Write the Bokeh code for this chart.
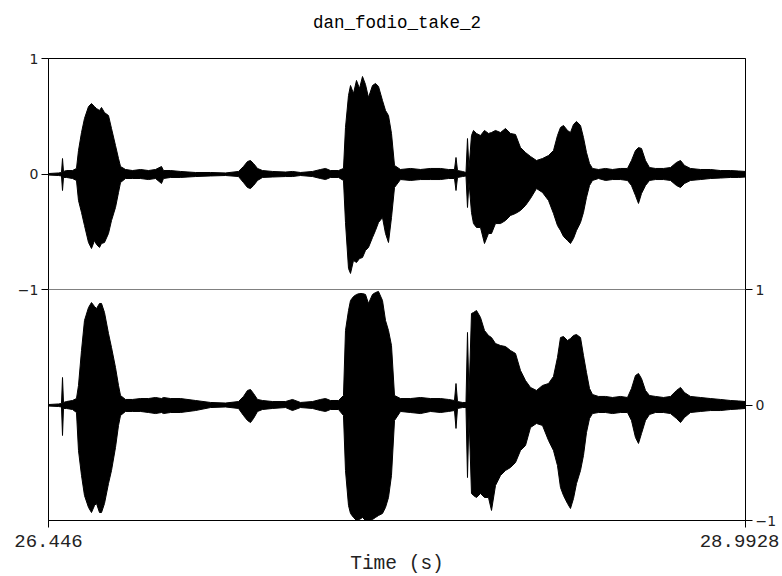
from bokeh.plotting import figure
from bokeh.models import Range1d, LinearAxis, FixedTicker, Span, ColumnDataSource
from bokeh.embed import file_html
from bokeh.resources import INLINE

title_text = "dan_fodio_take_2"
x_label = "Time (s)"
t_start = 26.446
t_end = 28.9928
amp_ticks = [-1, 0, 1]

time_s = [
    26.4460, 26.4825, 26.4935, 26.4972, 26.5008, 26.5118, 26.5337, 26.5483, 26.5556, 26.5666,
    26.5775, 26.5922, 26.6031, 26.6141, 26.6214, 26.6324, 26.6397, 26.6506, 26.6652, 26.6762,
    26.6908, 26.7018, 26.7091, 26.7274, 26.7529, 26.7822, 26.8114, 26.8370, 26.8589, 26.8662,
    26.8918, 26.9283, 26.9831, 27.0379, 27.0927, 27.1402, 27.1585, 27.1731, 27.1841, 27.1951,
    27.2097, 27.2279, 27.2645, 27.3120, 27.3375, 27.3668, 27.4106, 27.4399, 27.4581, 27.4764,
    27.5056, 27.5239, 27.5312, 27.5422, 27.5495, 27.5604, 27.5714, 27.5824, 27.5933, 27.6043,
    27.6152, 27.6299, 27.6408, 27.6518, 27.6664, 27.6774, 27.6883, 27.6993, 27.7103, 27.7322,
    27.7687, 27.8053, 27.8418, 27.8783, 27.9076, 27.9295, 27.9350, 27.9405, 27.9587, 27.9715,
    27.9770, 27.9825, 27.9916, 27.9989, 28.0099, 28.0245, 28.0391, 28.0537, 28.0647, 28.0793,
    28.0976, 28.1158, 28.1341, 28.1524, 28.1706, 28.1889, 28.2072, 28.2291, 28.2510, 28.2730,
    28.2912, 28.3058, 28.3168, 28.3278, 28.3424, 28.3533, 28.3643, 28.3753, 28.3899, 28.4008,
    28.4118, 28.4228, 28.4337, 28.4556, 28.4812, 28.5068, 28.5360, 28.5616, 28.5762, 28.5908,
    28.6018, 28.6128, 28.6274, 28.6420, 28.6639, 28.6932, 28.7187, 28.7407, 28.7553, 28.7699,
    28.7918, 28.8283, 28.8649, 28.9014, 28.9380, 28.9672, 28.9928,
]

ch1_upper = [
    0.004, 0.009, 0.013, 0.134, 0.022, 0.030, 0.030, 0.048, 0.203, 0.359,
    0.481, 0.584, 0.610, 0.584, 0.567, 0.550, 0.576, 0.532, 0.506, 0.394,
    0.247, 0.134, 0.065, 0.039, 0.030, 0.039, 0.030, 0.039, 0.065, 0.030,
    0.030, 0.022, 0.013, 0.013, 0.009, 0.022, 0.065, 0.108, 0.117, 0.091,
    0.048, 0.030, 0.022, 0.017, 0.022, 0.013, 0.022, 0.039, 0.048, 0.030,
    0.030, 0.048, 0.403, 0.680, 0.766, 0.697, 0.810, 0.740, 0.844, 0.775,
    0.662, 0.766, 0.784, 0.758, 0.636, 0.550, 0.506, 0.351, 0.074, 0.039,
    0.048, 0.039, 0.048, 0.048, 0.039, 0.039, 0.143, 0.030, 0.022, 0.013,
    0.307, 0.048, 0.333, 0.377, 0.351, 0.333, 0.377, 0.351, 0.359, 0.377,
    0.359, 0.394, 0.351, 0.342, 0.229, 0.186, 0.152, 0.117, 0.134, 0.160,
    0.203, 0.333, 0.403, 0.420, 0.377, 0.359, 0.429, 0.455, 0.420, 0.316,
    0.186, 0.091, 0.048, 0.039, 0.048, 0.039, 0.048, 0.048, 0.117, 0.203,
    0.229, 0.221, 0.117, 0.056, 0.048, 0.048, 0.056, 0.100, 0.117, 0.074,
    0.048, 0.039, 0.039, 0.030, 0.030, 0.026, 0.022,
]

ch1_lower = [
    -0.009, -0.013, -0.017, -0.143, -0.030, -0.030, -0.039, -0.056, -0.229, -0.333,
    -0.446, -0.593, -0.645, -0.576, -0.610, -0.636, -0.602, -0.593, -0.515, -0.403,
    -0.290, -0.160, -0.074, -0.039, -0.039, -0.039, -0.048, -0.039, -0.082, -0.039,
    -0.030, -0.030, -0.022, -0.017, -0.013, -0.022, -0.074, -0.117, -0.126, -0.100,
    -0.056, -0.030, -0.026, -0.022, -0.022, -0.013, -0.022, -0.039, -0.048, -0.030,
    -0.030, -0.056, -0.420, -0.818, -0.861, -0.749, -0.766, -0.732, -0.723, -0.662,
    -0.636, -0.550, -0.489, -0.420, -0.377, -0.515, -0.593, -0.377, -0.117, -0.048,
    -0.056, -0.048, -0.048, -0.048, -0.039, -0.039, -0.143, -0.030, -0.022, -0.017,
    -0.290, -0.074, -0.333, -0.429, -0.463, -0.463, -0.602, -0.515, -0.515, -0.429,
    -0.429, -0.403, -0.359, -0.342, -0.316, -0.273, -0.212, -0.126, -0.160, -0.229,
    -0.342, -0.446, -0.489, -0.541, -0.576, -0.602, -0.558, -0.489, -0.420, -0.333,
    -0.203, -0.100, -0.056, -0.039, -0.056, -0.048, -0.048, -0.056, -0.100, -0.186,
    -0.255, -0.169, -0.100, -0.056, -0.048, -0.048, -0.056, -0.100, -0.117, -0.082,
    -0.056, -0.048, -0.039, -0.035, -0.030, -0.030, -0.026,
]

ch2_upper = [
    0.004, 0.009, 0.013, 0.238, 0.022, 0.030, 0.039, 0.056, 0.169, 0.472,
    0.732, 0.844, 0.887, 0.853, 0.835, 0.879, 0.879, 0.801, 0.619, 0.498,
    0.325, 0.169, 0.082, 0.048, 0.048, 0.056, 0.056, 0.065, 0.056, 0.065,
    0.056, 0.056, 0.039, 0.022, 0.017, 0.030, 0.074, 0.126, 0.134, 0.100,
    0.048, 0.039, 0.030, 0.030, 0.048, 0.022, 0.030, 0.048, 0.056, 0.039,
    0.039, 0.082, 0.645, 0.818, 0.905, 0.939, 0.957, 0.965, 0.965, 0.957,
    0.879, 0.957, 0.974, 0.983, 0.905, 0.732, 0.645, 0.515, 0.082, 0.056,
    0.056, 0.065, 0.056, 0.056, 0.048, 0.039, 0.186, 0.030, 0.022, 0.022,
    0.628, 0.082, 0.792, 0.801, 0.818, 0.758, 0.645, 0.602, 0.584, 0.532,
    0.515, 0.506, 0.472, 0.446, 0.299, 0.212, 0.152, 0.126, 0.169, 0.186,
    0.247, 0.411, 0.584, 0.593, 0.558, 0.576, 0.602, 0.610, 0.584, 0.429,
    0.281, 0.143, 0.091, 0.074, 0.074, 0.065, 0.074, 0.065, 0.143, 0.255,
    0.273, 0.229, 0.126, 0.082, 0.074, 0.065, 0.074, 0.126, 0.152, 0.108,
    0.074, 0.065, 0.056, 0.048, 0.039, 0.035, 0.030,
]

ch2_lower = [
    -0.009, -0.013, -0.017, -0.264, -0.030, -0.030, -0.039, -0.065, -0.394, -0.610,
    -0.784, -0.887, -0.931, -0.870, -0.853, -0.931, -0.931, -0.853, -0.680, -0.567,
    -0.368, -0.177, -0.091, -0.056, -0.056, -0.056, -0.065, -0.074, -0.065, -0.074,
    -0.065, -0.065, -0.048, -0.022, -0.017, -0.030, -0.091, -0.134, -0.152, -0.117,
    -0.056, -0.039, -0.030, -0.022, -0.048, -0.022, -0.030, -0.048, -0.056, -0.039,
    -0.039, -0.091, -0.567, -0.870, -0.939, -0.974, -1.000, -0.991, -0.974, -1.000,
    -1.000, -0.991, -0.974, -0.957, -0.939, -0.887, -0.801, -0.610, -0.134, -0.056,
    -0.065, -0.074, -0.056, -0.065, -0.056, -0.048, -0.203, -0.030, -0.022, -0.022,
    -0.628, -0.091, -0.766, -0.784, -0.801, -0.766, -0.801, -0.801, -0.913, -0.697,
    -0.610, -0.567, -0.541, -0.498, -0.394, -0.351, -0.195, -0.160, -0.177, -0.307,
    -0.394, -0.524, -0.714, -0.784, -0.853, -0.896, -0.810, -0.680, -0.567, -0.437,
    -0.238, -0.117, -0.074, -0.065, -0.065, -0.074, -0.065, -0.065, -0.134, -0.281,
    -0.333, -0.247, -0.134, -0.082, -0.065, -0.065, -0.074, -0.117, -0.152, -0.108,
    -0.065, -0.056, -0.048, -0.048, -0.039, -0.035, -0.030,
]

src = ColumnDataSource(dict(t=time_s, u1=ch1_upper, l1=ch1_lower,
                            u2=ch2_upper, l2=ch2_lower))

MONO = "Liberation Mono"
SANS = "DejaVu Sans"

p = figure(frame_width=697, frame_height=462, output_backend="svg",
           toolbar_location=None,
           x_range=Range1d(t_start, t_end), y_range=Range1d(-3, 1),
           x_axis_location=None, y_axis_location=None,
           min_border_left=48, min_border_right=29, min_border_top=58,
           min_border_bottom=0)
p.extra_y_ranges = {"ch2": Range1d(-1, 3)}
p.grid.visible = False
p.outline_line_color = "black"
p.outline_line_width = 1
p.background_fill_color = "white"
p.border_fill_color = "white"

# title: an empty second line lifts the text further above the frame
p.title.text = title_text + "\n"
p.title.align = "center"
p.title.text_font = MONO
p.title.text_font_size = "17.5px"
p.title.text_font_style = "normal"
p.title.text_color = "black"
p.title.text_line_height = 1.05
p.title.standoff = 10

# channel 1 (top half, left axis)
p.varea(x="t", y1="l1", y2="u1", source=src, fill_color="black")
p.line(x="t", y="u1", source=src, line_color="black", line_width=1)
p.line(x="t", y="l1", source=src, line_color="black", line_width=1)
# channel 2 (bottom half, right axis)
p.varea(x="t", y1="l2", y2="u2", source=src, fill_color="black", y_range_name="ch2")
p.line(x="t", y="u2", source=src, line_color="black", line_width=1, y_range_name="ch2")
p.line(x="t", y="l2", source=src, line_color="black", line_width=1, y_range_name="ch2")

# separator between channels
p.add_layout(Span(location=-1, dimension="width", line_color="#808080", line_width=1))


def style_axis(ax, font, size):
    ax.axis_line_color = "black"
    ax.major_tick_line_color = "black"
    ax.major_tick_in = 0
    ax.major_tick_out = 7
    ax.minor_tick_line_color = None
    ax.major_label_text_font = font
    ax.major_label_text_font_size = size
    ax.major_label_text_color = "#222222"
    ax.major_label_standoff = 3


left = LinearAxis(ticker=FixedTicker(ticks=amp_ticks),
                  major_label_overrides={-1: "\u22121", 0: "0", 1: "1"})
style_axis(left, SANS, "14px")
p.add_layout(left, "left")

right = LinearAxis(y_range_name="ch2", ticker=FixedTicker(ticks=amp_ticks),
                   major_label_overrides={-1: "\u22121", 0: "0", 1: "1"})
style_axis(right, SANS, "14px")
p.add_layout(right, "right")

bottom = LinearAxis(ticker=FixedTicker(ticks=[t_start, t_end]),
                    major_label_overrides={t_start: "26.446", t_end: "28.9928"},
                    axis_label=x_label)
style_axis(bottom, MONO, "19px")
bottom.major_label_standoff = 7
bottom.axis_label_text_font = MONO
bottom.axis_label_text_font_size = "19.5px"
bottom.axis_label_text_font_style = "normal"
bottom.axis_label_text_color = "#222222"
bottom.axis_label_standoff = 3
p.add_layout(bottom, "below")

open("out.html", "w").write(file_html(p, INLINE))
